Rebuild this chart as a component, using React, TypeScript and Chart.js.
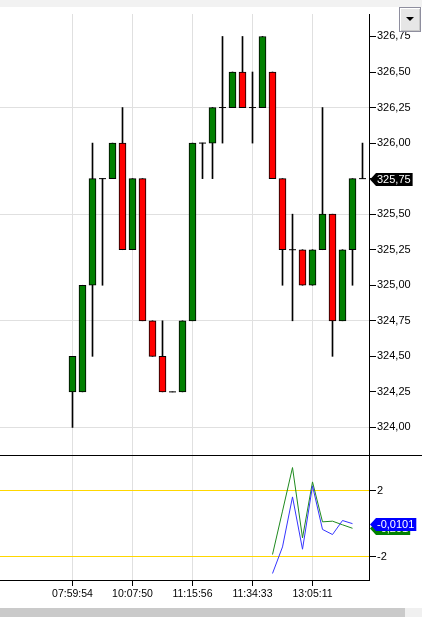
import React, { useEffect, useRef } from "react";
import { Chart, registerables } from "chart.js";

Chart.register(...registerables);

// ---- Candle data (slot index = position in arrays) ----
const opens = [324.25, 324.25, 325.0, 325.75, 325.75, 326.0, 325.25, 325.75, 324.75, 324.5, 324.25, 324.25, 324.75, 326.0, 326.0, 326.25, 326.25, 326.5, 326.25, 326.25, 326.5, 325.75, 325.25, 325.25, 325.0, 325.25, 325.5, 324.75, 325.25, 325.75];
const highs = [324.5, 325.0, 326.0, 325.75, 326.0, 326.25, 325.75, 325.75, 324.75, 324.75, 324.25, 324.75, 326.0, 326.0, 326.25, 326.75, 326.5, 326.75, 326.5, 326.75, 326.5, 325.75, 325.5, 325.25, 325.25, 326.25, 325.5, 325.25, 325.75, 326.0];
const lows = [324.0, 324.25, 324.5, 325.0, 325.75, 325.25, 325.25, 324.75, 324.5, 324.25, 324.25, 324.25, 324.75, 325.75, 325.75, 326.0, 326.25, 326.25, 326.0, 326.25, 325.75, 325.0, 324.75, 325.0, 325.0, 325.25, 324.5, 324.75, 325.0, 325.75];
const closes = [324.5, 325.0, 325.75, 325.75, 326.0, 325.25, 325.75, 324.75, 324.5, 324.25, 324.25, 324.75, 326.0, 326.0, 326.25, 326.25, 326.5, 326.25, 326.25, 326.75, 325.75, 325.25, 325.25, 325.0, 325.25, 325.5, 324.75, 325.25, 325.75, 325.75];

// ---- Axis ticks / labels ----
const labelSlots = [0, 6, 12, 18, 24];
const timeLabels = ["07:59:54", "10:07:50", "11:15:56", "11:34:33", "13:05:11"];
const priceTicks = [324.0, 324.25, 324.5, 324.75, 325.0, 325.25, 325.5, 325.75, 326.0, 326.25, 326.5, 326.75];
const priceGridValues = [324.0, 324.75, 325.5, 326.25];
const indicatorTicks = [2, -2];

// ---- Indicator data ----
const indicatorSlots = [20, 21, 22, 23, 24, 25, 26, 27, 28];
const blueValues = [-3.03, -1.42, 1.61, -1.56, 2.28, -0.36, -0.67, 0.18, -0.0101];
const greenValues = [-1.88, 0.75, 3.39, -0.87, 2.52, 0.1, 0.14, -0.08, -0.291];

const FONT = '"Liberation Sans", Arial, sans-serif';
const GREEN = "#008000";
const RED = "#ff0000";
const X_MIN = -7.25;
const X_MAX = 29.65;

const fmt = (v: number, d: number) => v.toFixed(d).replace(".", ",");

function makeTagPlugin(id: string, tags: { value: number; text: string; color: string }[]) {
  return {
    id,
    afterDraw(chart: any) {
      const ctx = chart.ctx;
      const yS = chart.scales.y;
      const right = chart.chartArea.right;
      ctx.save();
      ctx.font = `11px ${FONT}`;
      for (const t of tags) {
        const y = Math.round(yS.getPixelForValue(t.value)) + 0.5;
        const w = ctx.measureText(t.text).width;
        const x0 = right + 1;
        const arrow = 6;
        const h = 13;
        ctx.beginPath();
        ctx.moveTo(x0, y);
        ctx.lineTo(x0 + arrow, y - h / 2);
        ctx.lineTo(x0 + arrow + w + 3, y - h / 2);
        ctx.lineTo(x0 + arrow + w + 3, y + h / 2);
        ctx.lineTo(x0 + arrow, y + h / 2);
        ctx.closePath();
        ctx.fillStyle = t.color;
        ctx.fill();
        ctx.fillStyle = "#ffffff";
        ctx.textBaseline = "middle";
        ctx.textAlign = "left";
        ctx.fillText(t.text, x0 + arrow + 1, y + 0.5);
      }
      ctx.restore();
    },
  };
}

export default function App() {
  const mainRef = useRef<HTMLCanvasElement>(null);
  const indRef = useRef<HTMLCanvasElement>(null);

  useEffect(() => {
    document.body.style.margin = "0";

    const idx = opens.map((_, i) => i);
    const wicks = idx.map((i) => ({ x: i, y: [lows[i], highs[i]] }));
    const bodyIdx = idx.filter((i) => opens[i] !== closes[i]);
    const bodies = bodyIdx.map((i) => ({ x: i, y: [Math.min(opens[i], closes[i]), Math.max(opens[i], closes[i])] }));
    const bodyColors = bodyIdx.map((i) => (closes[i] > opens[i] ? GREEN : RED));
    const dojis = idx.filter((i) => opens[i] === closes[i]).map((i) => ({ x: i, y: closes[i] }));

    const xTicksAfterBuild = (scale: any) => {
      scale.ticks = labelSlots.map((v) => ({ value: v }));
    };

    const c1 = new Chart(mainRef.current!, {
      type: "bar",
      data: {
        datasets: [
          {
            type: "bar",
            data: wicks as any,
            backgroundColor: "#000000",
            barThickness: 1,
            grouped: false,
            order: 3,
            borderWidth: 0,
          } as any,
          {
            type: "bar",
            data: bodies as any,
            backgroundColor: bodyColors,
            borderColor: "#000000",
            borderWidth: 1,
            borderSkipped: false,
            barThickness: 7,
            grouped: false,
            order: 2,
          } as any,
          {
            type: "scatter",
            data: dojis as any,
            pointStyle: "line",
            pointRadius: 3.5,
            pointBorderColor: "#000000",
            pointBorderWidth: 1,
            showLine: false,
            order: 1,
          } as any,
        ],
      },
      options: {
        animation: false,
        responsive: false,
        devicePixelRatio: 1,
        layout: { autoPadding: false, padding: { top: 14, bottom: 0, left: 0, right: 0 } },
        plugins: { legend: { display: false }, tooltip: { enabled: false } },
        scales: {
          x: {
            type: "linear",
            min: X_MIN,
            max: X_MAX,
            offset: false,
            afterBuildTicks: xTicksAfterBuild,
            afterFit: (s: any) => {
              s.height = 0;
              s.paddingLeft = 0;
              s.paddingRight = 0;
            },
            grid: { color: "#e0e0e0", drawTicks: false, offset: false },
            border: { display: false },
            ticks: { display: false },
          },
          y: {
            type: "linear",
            position: "right",
            min: 323.799,
            max: 326.908,
            afterBuildTicks: (s: any) => {
              s.ticks = priceTicks.map((v) => ({ value: v }));
            },
            afterFit: (s: any) => {
              s.width = 53;
              s.paddingTop = 0;
              s.paddingBottom = 0;
            },
            grid: {
              color: (c: any) =>
                c.tick && priceGridValues.some((g) => Math.abs(g - c.tick.value) < 1e-6) ? "#e0e0e0" : "rgba(0,0,0,0)",
              tickColor: "#000000",
              tickLength: 7,
            },
            border: { display: true, color: "#000000", width: 1 },
            ticks: {
              padding: 1,
              color: "#000000",
              font: { family: FONT, size: 11 },
              callback: (v: any) => fmt(Number(v), 2),
            },
          },
        },
      } as any,
      plugins: [
        makeTagPlugin("priceTag", [
          { value: closes[closes.length - 1], text: fmt(closes[closes.length - 1], 2), color: "#000000" },
        ]) as any,
      ],
    });

    const c2 = new Chart(indRef.current!, {
      type: "line",
      data: {
        datasets: [
          {
            data: indicatorSlots.map((s, i) => ({ x: s, y: blueValues[i] })),
            borderColor: "#3535ff",
            borderWidth: 1,
            pointRadius: 0,
            tension: 0,
          },
          {
            data: indicatorSlots.map((s, i) => ({ x: s, y: greenValues[i] })),
            borderColor: "#1f8a1f",
            borderWidth: 1,
            pointRadius: 0,
            tension: 0,
          },
        ],
      },
      options: {
        animation: false,
        responsive: false,
        devicePixelRatio: 1,
        layout: { autoPadding: false, padding: 0 },
        plugins: { legend: { display: false }, tooltip: { enabled: false } },
        scales: {
          x: {
            type: "linear",
            min: X_MIN,
            max: X_MAX,
            offset: false,
            afterBuildTicks: xTicksAfterBuild,
            afterFit: (s: any) => {
              s.height = 20;
              s.paddingLeft = 0;
              s.paddingRight = 0;
            },
            grid: { color: "#e0e0e0", tickColor: "#000000", tickLength: 6 },
            border: { display: true, color: "#000000", width: 1 },
            ticks: {
              autoSkip: false,
              maxRotation: 0,
              padding: 2,
              color: "#000000",
              font: { family: FONT, size: 10.5 },
              callback: (v: any) => {
                const k = labelSlots.indexOf(Number(v));
                return k >= 0 ? timeLabels[k] : "";
              },
            },
          },
          y: {
            type: "linear",
            position: "right",
            min: -3.425,
            max: 4.09,
            afterBuildTicks: (s: any) => {
              s.ticks = indicatorTicks.map((v) => ({ value: v }));
            },
            afterFit: (s: any) => {
              s.width = 53;
              s.paddingTop = 0;
              s.paddingBottom = 0;
            },
            grid: { color: "#ffd700", tickColor: "#000000", tickLength: 7 },
            border: { display: true, color: "#000000", width: 1 },
            ticks: {
              padding: 1,
              color: "#000000",
              font: { family: FONT, size: 11 },
              callback: (v: any) => String(v),
            },
          },
        },
      } as any,
      plugins: [
        makeTagPlugin("indTags", [
          { value: greenValues[greenValues.length - 1], text: fmt(greenValues[greenValues.length - 1], 3), color: "#008000" },
          { value: blueValues[blueValues.length - 1], text: fmt(blueValues[blueValues.length - 1], 4), color: "#0000ff" },
        ]) as any,
      ],
    });

    return () => {
      c1.destroy();
      c2.destroy();
    };
  }, []);

  return (
    <div style={{ position: "relative", width: 422, height: 617, background: "#ffffff", overflow: "hidden" }}>
      <div style={{ position: "absolute", left: 0, top: 0, width: 422, height: 7, background: "#f2f2f2" }} />
      <canvas
        ref={mainRef}
        width={422}
        height={456}
        style={{ position: "absolute", left: 0, top: 0, width: 422, height: 456, display: "block" }}
      />
      <canvas
        ref={indRef}
        width={422}
        height={144}
        style={{ position: "absolute", left: 0, top: 456, width: 422, height: 144, display: "block" }}
      />
      <div style={{ position: "absolute", left: 0, top: 455, width: 422, height: 1, background: "#000000" }} />
      <div
        style={{
          position: "absolute",
          left: 399,
          top: 7,
          width: 20,
          height: 23,
          border: "1px solid #8e8e9e",
          background: "#e6e6e6",
          boxShadow: "inset 1px 1px 0 #ffffff, inset -1px -1px 0 #c8c8c8",
        }}
      >
        <div
          style={{
            position: "absolute",
            left: 6,
            top: 9,
            width: 0,
            height: 0,
            borderLeft: "4px solid transparent",
            borderRight: "4px solid transparent",
            borderTop: "4px solid #000000",
          }}
        />
      </div>
      <div style={{ position: "absolute", left: 0, top: 608, width: 405, height: 9, background: "#cacaca" }} />
      <div style={{ position: "absolute", left: 405, top: 608, width: 17, height: 9, background: "#f0f0f0" }} />
    </div>
  );
}
